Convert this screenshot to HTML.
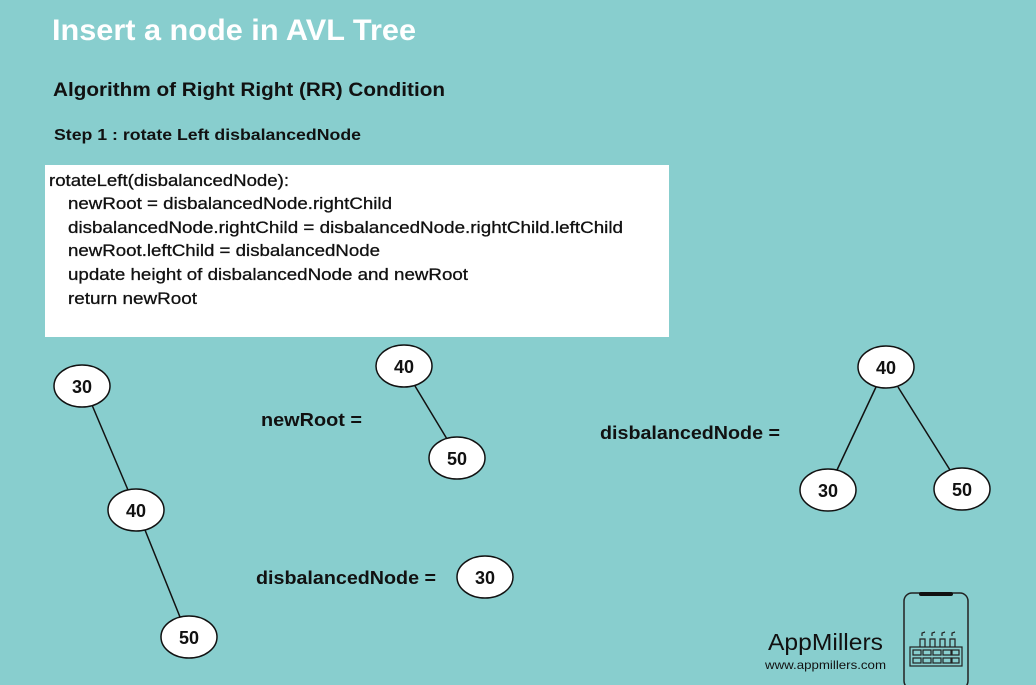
<!DOCTYPE html>
<html><head><style>
html,body{margin:0;padding:0;}
body{width:1036px;height:685px;background:#88cece;overflow:hidden;}
svg{display:block;font-family:"Liberation Sans",sans-serif;}
</style></head><body>
<svg width="1036" height="685" viewBox="0 0 1036 685">
<rect width="1036" height="685" fill="#88cece"/>
<text x="52" y="40" font-size="30" font-weight="bold" fill="#fff" textLength="364" lengthAdjust="spacingAndGlyphs">Insert a node in AVL Tree</text>
<text x="53" y="96" font-size="19" font-weight="bold" fill="#111" textLength="392" lengthAdjust="spacingAndGlyphs">Algorithm of Right Right (RR) Condition</text>
<text x="54" y="140" font-size="16" font-weight="bold" fill="#111" textLength="307" lengthAdjust="spacingAndGlyphs">Step 1 : rotate Left disbalancedNode</text>
<rect x="45" y="165" width="624" height="172" fill="#fff"/>
<g font-size="17" fill="#111" stroke="#111" stroke-width="0.3" lengthAdjust="spacingAndGlyphs">
<text x="49" y="186" textLength="240" lengthAdjust="spacingAndGlyphs">rotateLeft(disbalancedNode):</text>
<text x="68" y="209" textLength="324" lengthAdjust="spacingAndGlyphs">newRoot = disbalancedNode.rightChild</text>
<text x="68" y="233" textLength="555" lengthAdjust="spacingAndGlyphs">disbalancedNode.rightChild = disbalancedNode.rightChild.leftChild</text>
<text x="68" y="256" textLength="312" lengthAdjust="spacingAndGlyphs">newRoot.leftChild = disbalancedNode</text>
<text x="68" y="280" textLength="400" lengthAdjust="spacingAndGlyphs">update height of disbalancedNode and newRoot</text>
<text x="68" y="304" textLength="129" lengthAdjust="spacingAndGlyphs">return newRoot</text>
</g>
<g stroke="#111" stroke-width="1.5">
<line x1="92" y1="405" x2="128" y2="490"/>
<line x1="145" y1="530" x2="180" y2="617"/>
<line x1="415" y1="386" x2="447" y2="439"/>
<line x1="876" y1="387" x2="837" y2="470"/>
<line x1="898" y1="387" x2="950" y2="470"/>
</g>
<g fill="#fff" stroke="#111" stroke-width="1.5">
<ellipse cx="82" cy="386" rx="28" ry="21"/>
<ellipse cx="136" cy="510" rx="28" ry="21"/>
<ellipse cx="189" cy="637" rx="28" ry="21"/>
<ellipse cx="404" cy="366" rx="28" ry="21"/>
<ellipse cx="457" cy="458" rx="28" ry="21"/>
<ellipse cx="485" cy="577" rx="28" ry="21"/>
<ellipse cx="886" cy="367" rx="28" ry="21"/>
<ellipse cx="828" cy="490" rx="28" ry="21"/>
<ellipse cx="962" cy="489" rx="28" ry="21"/>
</g>
<g font-size="18" font-weight="bold" fill="#111" text-anchor="middle">
<text x="82" y="393">30</text>
<text x="136" y="517">40</text>
<text x="189" y="644">50</text>
<text x="404" y="373">40</text>
<text x="457" y="465">50</text>
<text x="485" y="584">30</text>
<text x="886" y="374">40</text>
<text x="828" y="497">30</text>
<text x="962" y="496">50</text>
</g>
<g font-size="18" font-weight="bold" fill="#111">
<text x="261" y="426" textLength="101" lengthAdjust="spacingAndGlyphs">newRoot =</text>
<text x="600" y="439" textLength="180" lengthAdjust="spacingAndGlyphs">disbalancedNode =</text>
<text x="256" y="584" textLength="180" lengthAdjust="spacingAndGlyphs">disbalancedNode =</text>
</g>
<text x="768" y="650" font-size="23" fill="#111" textLength="115" lengthAdjust="spacingAndGlyphs">AppMillers</text>
<text x="765" y="669" font-size="12" fill="#111" textLength="121" lengthAdjust="spacingAndGlyphs">www.appmillers.com</text>
<rect x="904" y="593" width="64" height="96" rx="8" fill="none" stroke="#222" stroke-width="1.5"/>
<rect x="919" y="592" width="34" height="4" rx="2" fill="#111"/>
<g fill="none" stroke="#222" stroke-width="1.2">
<rect x="910" y="647" width="52" height="19"/>
<rect x="913" y="650" width="8" height="5"/><rect x="923" y="650" width="8" height="5"/><rect x="933" y="650" width="8" height="5"/><rect x="943" y="650" width="8" height="5"/><rect x="952" y="650" width="7" height="5"/>
<rect x="913" y="658" width="8" height="5"/><rect x="923" y="658" width="8" height="5"/><rect x="933" y="658" width="8" height="5"/><rect x="943" y="658" width="8" height="5"/><rect x="952" y="658" width="7" height="5"/>
<path d="M920 647v-8h5v8M930 647v-8h5v8M940 647v-8h5v8M950 647v-8h5v8"/>
<path d="M922 636v-3l3-1M932 636v-3l3-1M942 636v-3l3-1M952 636v-3l3-1"/>
</g>
</svg>
</body></html>
